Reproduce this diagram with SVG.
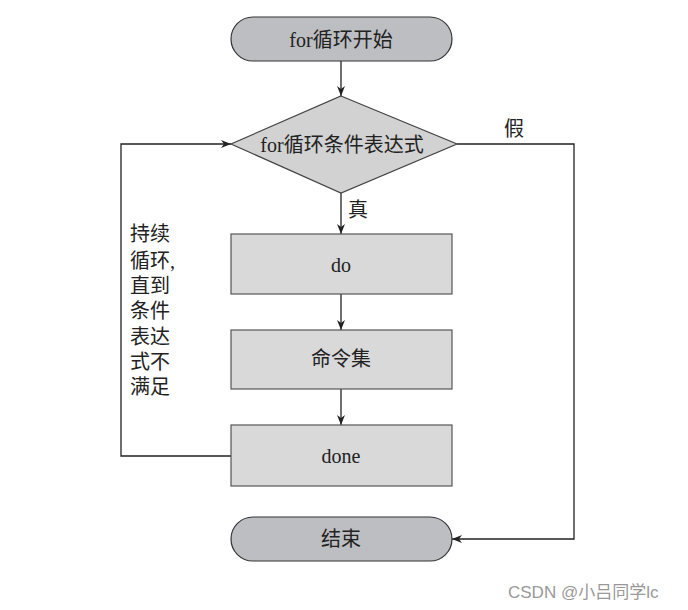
<svg xmlns="http://www.w3.org/2000/svg" width="688" height="610" viewBox="0 0 688 610">
<style>
.t{font-family:"Liberation Serif","Noto Sans CJK SC",serif;font-size:20px;fill:#222;text-anchor:middle;dominant-baseline:central}
.lb{font-family:"Liberation Serif","Noto Sans CJK SC",serif;font-size:20px;fill:#222}
.pill{fill:#bdbec1;stroke:#333;stroke-width:1.2}
.box{fill:#d9d9d9;stroke:#555;stroke-width:1.2}
.dia{fill:#d2d2d2;stroke:#444;stroke-width:1.2}
.ln{fill:none;stroke:#222;stroke-width:1.3}
.wm{font-family:"Liberation Sans","Noto Sans CJK SC",sans-serif;font-size:17px;fill:#999}
</style>
<defs>
<marker id="ah" viewBox="0 0 10 10" refX="10" refY="5" markerWidth="10" markerHeight="10" markerUnits="userSpaceOnUse" orient="auto">
<path d="M0,1 L10,5 L0,9 L3,5 Z" fill="#222"/>
</marker>
</defs>
<rect width="688" height="610" fill="#fff"/>
<g id="connectors">
<line class="ln" x1="341" y1="61" x2="341" y2="96" marker-end="url(#ah)"/>
<line class="ln" x1="341" y1="193" x2="341" y2="234" marker-end="url(#ah)"/>
<line class="ln" x1="341" y1="294" x2="341" y2="330" marker-end="url(#ah)"/>
<line class="ln" x1="341" y1="389" x2="341" y2="425" marker-end="url(#ah)"/>
<polyline class="ln" points="231,456 121,456 121,144 231,144" marker-end="url(#ah)"/>
<polyline class="ln" points="457,144 574,144 574,539 452,539" marker-end="url(#ah)"/>
<text class="lb" x="348" y="217">真</text>
<text class="lb" x="504" y="136">假</text>
<g class="lb">
<text x="130" y="241">持续</text>
<text x="130" y="268">循环,</text>
<text x="130" y="293">直到</text>
<text x="130" y="318">条件</text>
<text x="130" y="344">表达</text>
<text x="130" y="369">式不</text>
<text x="130" y="394">满足</text>
</g>
</g>
<g id="start">
<rect class="pill" x="231" y="17" width="221" height="44" rx="22"/>
<text class="t" x="341" y="40">for循环开始</text>
</g>
<g id="cond">
<polygon class="dia" points="341,96 457,144 341,193 231,144"/>
<text class="t" x="342" y="145">for循环条件表达式</text>
</g>
<g id="do">
<rect class="box" x="231" y="234" width="221" height="60"/>
<text class="t" x="341" y="265">do</text>
</g>
<g id="cmds">
<rect class="box" x="231" y="330" width="221" height="59"/>
<text class="t" x="341" y="359">命令集</text>
</g>
<g id="done">
<rect class="box" x="231" y="425" width="221" height="61"/>
<text class="t" x="341" y="456">done</text>
</g>
<g id="end">
<rect class="pill" x="231" y="517" width="221" height="44" rx="22"/>
<text class="t" x="341" y="539">结束</text>
</g>
<text class="wm" x="508" y="598">CSDN @小吕同学lc</text>
</svg>
